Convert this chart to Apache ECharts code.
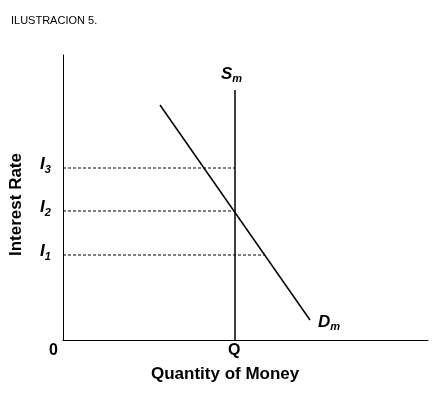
<!DOCTYPE html><html><head><meta charset="utf-8"><script src="https://cdn.jsdelivr.net/npm/echarts@6/dist/echarts.min.js"></script></head><body style="margin:0;background:#fff"><div id="c" style="width:432px;height:416px"></div><script>
const supplyX=[172,172], supplyY=[0,250];
const demand=[[97,235],[247,20]];
const rateNames=['3','2','1'];
const rateY=[172,129,85];
const rateEndX=[172,172,202];
const ch=echarts.init(document.getElementById('c'));
const F='Liberation Sans, Arial, sans-serif';
const rich={b:{fontSize:17,fontStyle:'italic',fontWeight:'bold',fontFamily:F,color:'#000'},s:{fontSize:11,fontStyle:'italic',fontWeight:'bold',fontFamily:F,color:'#000',verticalAlign:'bottom',padding:[10,0,0,0]}};
const series=[
{type:'line',data:supplyX.map((x,i)=>[x,supplyY[i]]),symbol:'none',lineStyle:{color:'#000',width:1.5},
 endLabel:{show:true,formatter:'{b|S}{s|m}',rich,offset:[-22,-16]}},
{type:'line',data:demand,symbol:'none',lineStyle:{color:'#000',width:1.5},
 endLabel:{show:true,formatter:'{b|D}{s|m}',rich,offset:[0,2]}}];
rateY.forEach((y,i)=>series.push({type:'line',data:[[0,y],[rateEndX[i],y]],symbol:'none',lineStyle:{color:'#000',width:1,type:[3,2]},silent:true}));
ch.setOption({animation:false,
title:{text:'ILUSTRACION 5.',left:6,top:10,textStyle:{fontSize:11,fontWeight:'normal',fontFamily:F,color:'#000'}},
grid:{left:63,right:4,top:55,bottom:76},
xAxis:{type:'value',min:0,max:365,splitLine:{show:false},axisTick:{show:false},axisLine:{lineStyle:{color:'#000',width:1}},
 axisLabel:{show:false}},
yAxis:{type:'value',min:0,max:285,splitLine:{show:false},axisTick:{show:false},axisLine:{show:true,lineStyle:{color:'#000',width:1}},axisLabel:{show:false}},
graphic:[
{type:'text',left:49,top:343,style:{text:'0',font:'bold 16px '+F,fill:'#000'}},
{type:'text',left:228,top:343,style:{text:'Q',font:'bold 16px '+F,fill:'#000'}},
{type:'text',left:151,top:366,style:{text:'Quantity of Money',font:'bold 17px '+F,fill:'#000'}},
{type:'text',x:8,y:256,rotation:Math.PI/2,style:{text:'Interest Rate',font:'bold 17px '+F,fill:'#000'}},
...rateNames.map((n,i)=>({type:'text',left:40,top:340-rateY[i]-12,style:{text:'{b|I}{s|'+n+'}',rich}}))
],
series});
</script></body></html>
